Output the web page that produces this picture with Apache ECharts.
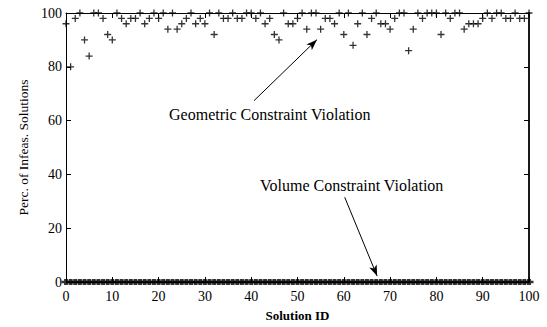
<!DOCTYPE html>
<html><head><meta charset="utf-8">
<script src="https://cdn.jsdelivr.net/npm/echarts@6/dist/echarts.min.js"></script>
<style>html,body{margin:0;padding:0;background:#fff}#c{width:547px;height:327px}</style>
</head><body><div id="c"></div>
<script>
// Solution IDs 0..100
const solutionIds = [0,1,2,3,4,5,6,7,8,9,10,11,12,13,14,15,16,17,18,19,20,21,22,23,24,25,26,27,28,29,30,31,32,33,34,35,36,37,38,39,40,41,42,43,44,45,46,47,48,49,50,51,52,53,54,55,56,57,58,59,60,61,62,63,64,65,66,67,68,69,70,71,72,73,74,75,76,77,78,79,80,81,82,83,84,85,86,87,88,89,90,91,92,93,94,95,96,97,98,99,100];
// Geometric constraint violation (%)
const geometricPerc = [96,80,98,100,90,84,100,100,98,92,90,100,98,96,98,98,100,96,98,100,98,100,94,100,94,96,98,100,96,98,96,100,92,100,98,98,100,98,98,100,100,98,100,96,98,92,90,100,96,96,98,100,94,100,100,94,98,98,96,100,92,100,88,96,100,92,98,100,96,96,94,98,100,100,86,94,100,98,100,100,100,92,100,98,100,100,94,96,96,96,98,100,98,100,100,98,98,100,98,98,100];
// Volume constraint violation (%)
const volumePerc = [0,0,0,0,0,0,0,0,0,0,0,0,0,0,0,0,0,0,0,0,0,0,0,0,0,0,0,0,0,0,0,0,0,0,0,0,0,0,0,0,0,0,0,0,0,0,0,0,0,0,0,0,0,0,0,0,0,0,0,0,0,0,0,0,0,0,0,0,0,0,0,0,0,0,0,0,0,0,0,0,0,0,0,0,0,0,0,0,0,0,0,0,0,0,0,0,0,0,0,0,0];
const xTicks = [0,10,20,30,40,50,60,70,80,90,100];
const yTicks = [0,20,40,60,80,100];
const annoGeo = "Geometric Constraint Violation";
const annoVol = "Volume Constraint Violation";

const FONT = '"Liberation Serif","Times New Roman",serif';
const PLUS = 'path://M0,5L10,5M5,0L5,10';
const geoData = solutionIds.map((id,i)=>[id, geometricPerc[i]]);
const volData = solutionIds.map((id,i)=>[id, volumePerc[i]]);

function xAx(pos, labels){
  return {type:'value', position:pos, min:xTicks[0], max:xTicks[xTicks.length-1], interval:10,
    axisLine:{show:true, onZero:false, lineStyle:{color:'#000', width:1}},
    axisTick:{show:true, inside:true, length:5, lineStyle:{color:'#000'}},
    axisLabel:{show:labels, color:'#000', fontFamily:FONT, fontSize:14, margin:7},
    splitLine:{show:false},
    name: labels ? 'Solution ID' : '', nameLocation:'middle', nameGap:27,
    nameTextStyle:{color:'#000', fontFamily:FONT, fontSize:13, fontWeight:'bold'}};
}
function yAx(pos, labels, w){
  return {type:'value', position:pos, min:yTicks[0], max:yTicks[yTicks.length-1], interval:20,
    axisLine:{show:true, onZero:false, lineStyle:{color:'#000', width:w}},
    axisTick:{show:true, inside:true, length:5, lineStyle:{color:'#000'}},
    axisLabel:{show:labels, color:'#000', fontFamily:FONT, fontSize:14, margin:4},
    splitLine:{show:false},
    name: labels ? 'Perc. of Infeas. Solutions' : '', nameLocation:'middle', nameGap:34, nameRotate:90,
    nameTextStyle:{color:'#000', fontFamily:FONT, fontSize:13.5}};
}

const chart = echarts.init(document.getElementById('c'), null, {renderer:'svg'});
chart.setOption({
  animation:false,
  backgroundColor:'#fff',
  grid:{left:66, right:18, top:13, bottom:41, containLabel:false},
  xAxis:[xAx('bottom', true), xAx('top', false)],
  yAxis:[yAx('left', true, 1), yAx('right', false, 1.8)],
  series:[
    {type:'scatter', name:'volume', data:volData, symbol:PLUS, symbolSize:[9,6], clip:false, z:1,
     itemStyle:{color:'#000', borderColor:'#000', borderWidth:3.2}},
    {type:'scatter', name:'geometric', data:geoData, symbol:PLUS, symbolSize:7, clip:false, z:3,
     itemStyle:{color:'#000', borderColor:'#000', borderWidth:1.3},
     markLine:{silent:true, symbol:['none','arrow'], symbolSize:[6,11],
       lineStyle:{color:'#000', width:1, type:'solid'}, label:{show:false},
       data:[[{coord:[40.6,67.4]},{coord:[54.2,90.1]}],[{coord:[60.2,31.5]},{coord:[67.2,2.2]}]]},
     markPoint:{silent:true, symbol:'circle', symbolSize:1, itemStyle:{color:'rgba(0,0,0,0)'},
       label:{show:true, position:'inside', color:'#000', fontFamily:FONT, fontSize:16},
       data:[{coord:[44.0,62.3], value:annoGeo, label:{formatter:annoGeo}},
             {coord:[61.7,35.9], value:annoVol, label:{formatter:annoVol}}]}
    }
  ]
});
</script></body></html>
